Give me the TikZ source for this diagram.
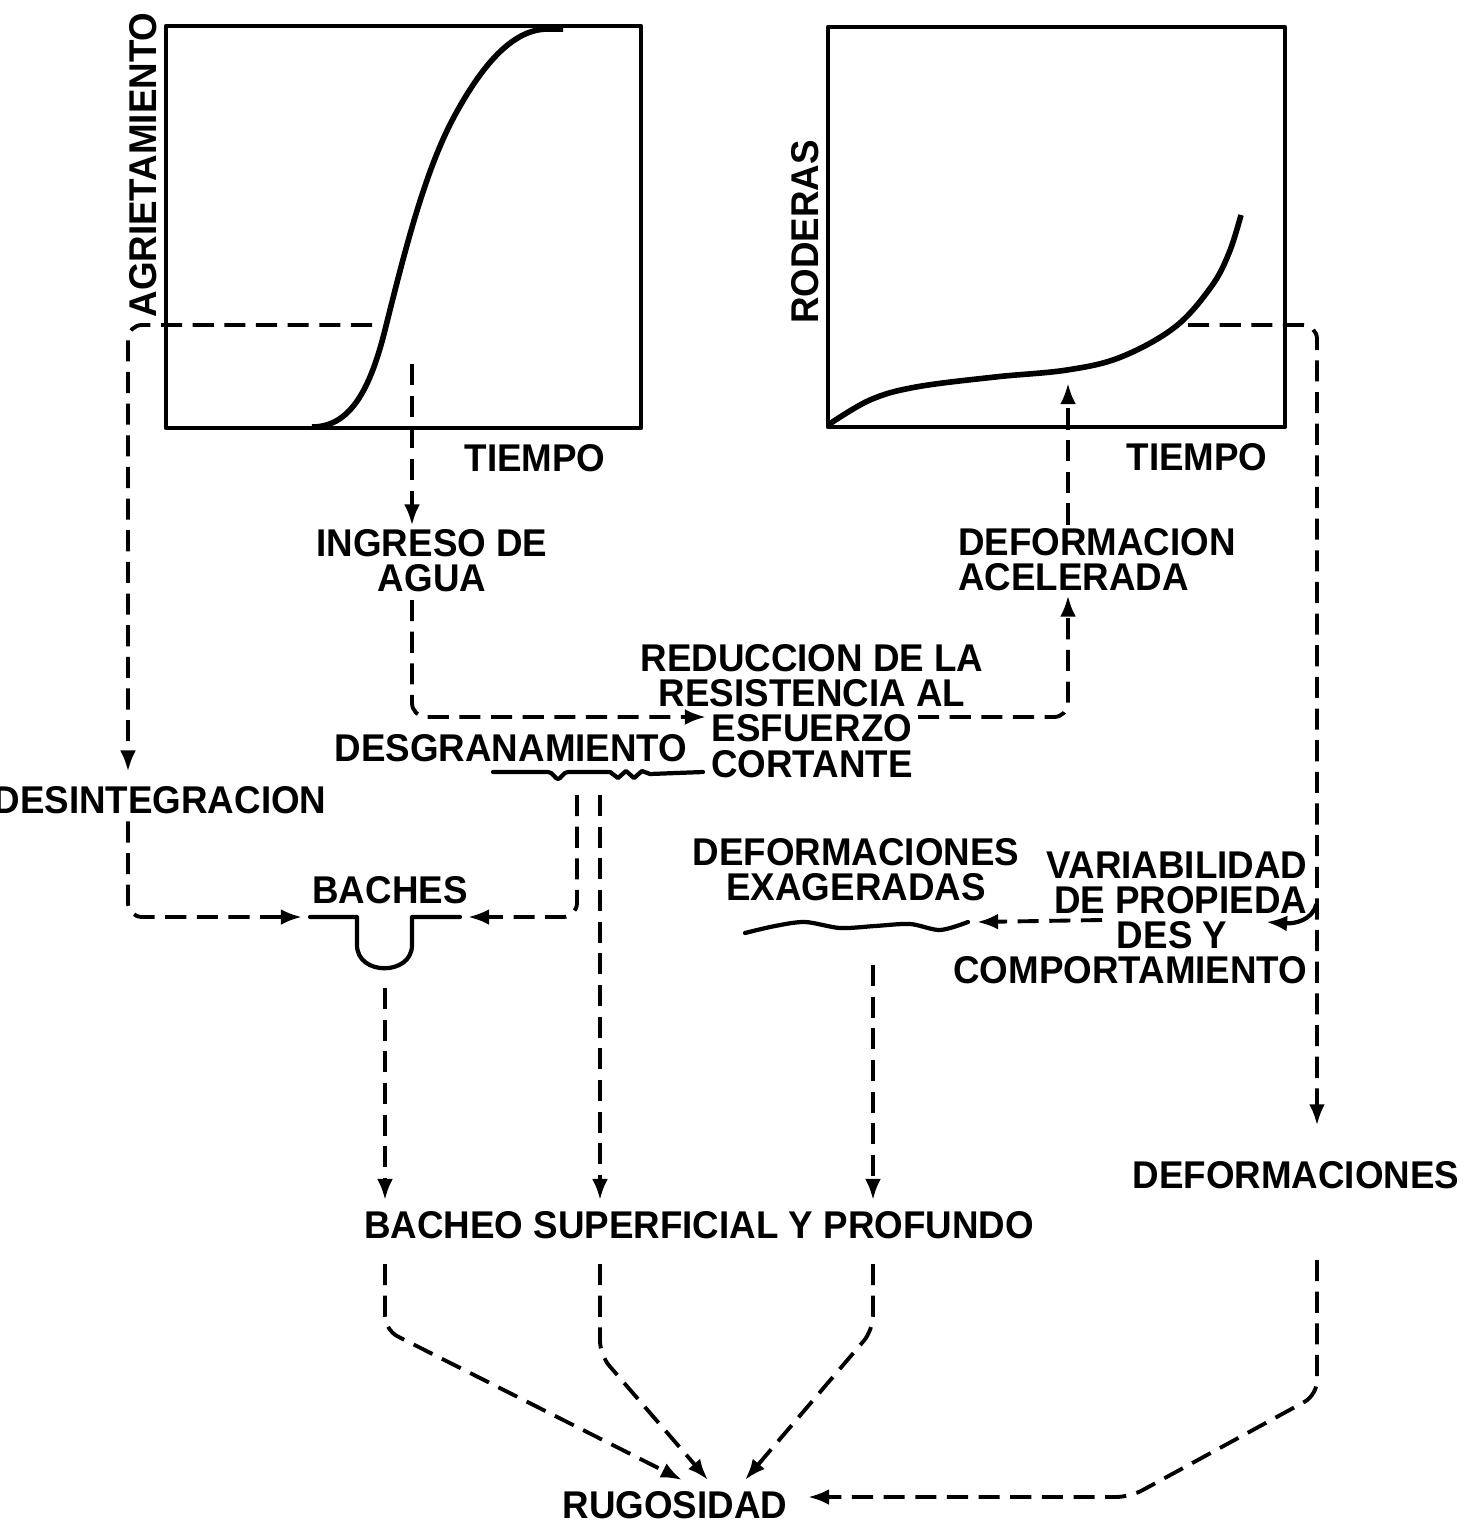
\documentclass[tikz,border=0pt]{standalone}
\usepackage{fontspec}
\setmainfont{Liberation Sans}[FakeStretch=0.95]
\usetikzlibrary{arrows.meta,calc}

\begin{document}
\begin{tikzpicture}[x=0.01cm,y=-0.01cm,
  t/.style={font=\bfseries\fontsize{11}{10}\selectfont,inner sep=0pt,align=center},
  s/.style={line width=1.2pt,line join=round,line cap=round},
  d/.style={line width=1.1pt,dash pattern=on 6pt off 3pt,rounded corners=4pt},
  a/.style={d,-{Latex[length=6pt,width=4.5pt]}}]
  \useasboundingbox (0,0) rectangle (1480,1527);

  \draw[s] (166,26) rectangle (641,428);
  \draw[s] (828,27) rectangle (1285,427);
  \draw[line width=1.6pt] (312,427) .. controls (350,427) and (370,390) .. (385,330)
    .. controls (405,250) and (425,170) .. (455,115)
    .. controls (485,60) and (515,29) .. (548,29) -- (563,29);
  \draw[line width=1.6pt] plot[smooth,tension=0.6] coordinates
    {(828,425) (870,400) (916,387) (995,377) (1067,370) (1121,357)
     (1175,327) (1211,287) (1229,253) (1241,215)};

  \coordinate (xl) at (128,0);
  \coordinate (xr) at (1317,0);
  \coordinate (ca) at (372,325);
  \coordinate (cb) at (412,364);
  \coordinate (cc) at (1068,383);
  \coordinate (cd) at (1188,325);
  \coordinate (ce) at (706,717);
  \coordinate (cf) at (918,717);
  \coordinate (cg) at (577,795);
  \coordinate (ch) at (600,795);
  \coordinate (pl) at (302,917);
  \coordinate (pr) at (468,917);
  \coordinate (pb) at (385,988);
  \coordinate (ew) at (873,965);
  \coordinate (vi) at (1102,920);
  \coordinate (vo) at (977,922);
  \coordinate (df) at (1317,1260);
  \coordinate (ru) at (808,1497);

  \node[t,rotate=90] (agr) at (143,165) {AGRIETAMIENTO};
  \node[t] (tA) at (535,458) {TIEMPO};
  \node[t,rotate=90] (rod) at (805,232) {RODERAS};
  \node[t] (tB) at (1197,457) {TIEMPO};
  \node[t] (ing) at (432,561) {INGRESO DE\\AGUA};
  \node[t,align=left] (acc) at (1097,560) {DEFORMACION\\ACELERADA};
  \node[t] (red) at (812,711) {REDUCCION DE LA\\RESISTENCIA AL\\ESFUERZO\\CORTANTE};
  \node[t] (des) at (511,748) {DESGRANAMIENTO};
  \node[t] (int) at (160,800) {DESINTEGRACION};
  \node[t] (bch) at (390,890) {BACHES};
  \node[t] (exa) at (856,870) {DEFORMACIONES\\EXAGERADAS};
  \node[t,align=right,anchor=east] (var) at (1308,918)
    {VARIABILIDAD\\DE PROPIEDA\\DES Y\rule{0.8cm}{0pt}\\COMPORTAMIENTO};
  \node[t] (dfs) at (1296,1175) {DEFORMACIONES};
  \node[t] (bso) at (699,1225) {BACHEO SUPERFICIAL Y PROFUNDO};
  \node[t] (rug) at (675,1505) {RUGOSIDAD};

  \draw[a,shorten >=4pt] (ca) -| (int.north -| xl);
  \draw[a,shorten >=1pt] (cb) -- (ing.north -| cb);
  \draw[a,shorten <=2pt] (ing.south -| cb) |- (ce);
  \draw[a,shorten >=1pt] (cf) -| (acc.south -| cc);
  \draw[a,shorten <=1pt] (acc.north -| cc) -- (cc);
  \draw[a,shorten >=10pt] (cd) -| (dfs.north -| xr);

  \draw[s] (493,772) -- (548,772) .. controls (553,772) and (555,779) .. (558,779)
    .. controls (561,779) and (563,772) .. (568,772) -- (610,772) -- (618,778)
    -- (626,771) -- (634,778) -- (642,771) -- (650,774) -- (703,772);
  \draw[a] (cg) |- (pr);
  \draw[a,shorten >=3pt] (ch) -- (bso.north -| ch);
  \draw[a,shorten <=2pt] (int.south -| xl) |- (pl);
  \draw[s] (310,917) -- (357,917) -- (357,945) .. controls (357,976) and (412,976)
    .. (412,945) -- (412,917) -- (460,917);
  \draw[a,shorten >=3pt] (pb) -- (bso.north -| pb);

  \draw[s] plot[smooth] coordinates {(745,933) (775,926) (805,922) (840,928)
    (875,926) (910,924) (940,930) (968,922)};
  \draw[a] (vi) -- (vo);
  \draw[s,-{Latex[length=6pt,width=4.5pt]}] (1316,905) .. controls (1312,920)
    and (1295,924) .. (1266,922);
  \draw[a,shorten >=3pt] (ew) -- (bso.north -| ew);

  \foreach \x/\k/\tx in {385/1330/682,600/1355/708,873/1330/745} {
    \coordinate (c\x) at (\x,0);
    \draw[a,shorten <=7pt] (bso.south -| c\x) -- (\x,\k) -- (\tx,1480);
  }
  \draw[a] (df) -- (1317,1395) -- (1130,1497) -- (ru);
\end{tikzpicture}
\end{document}
